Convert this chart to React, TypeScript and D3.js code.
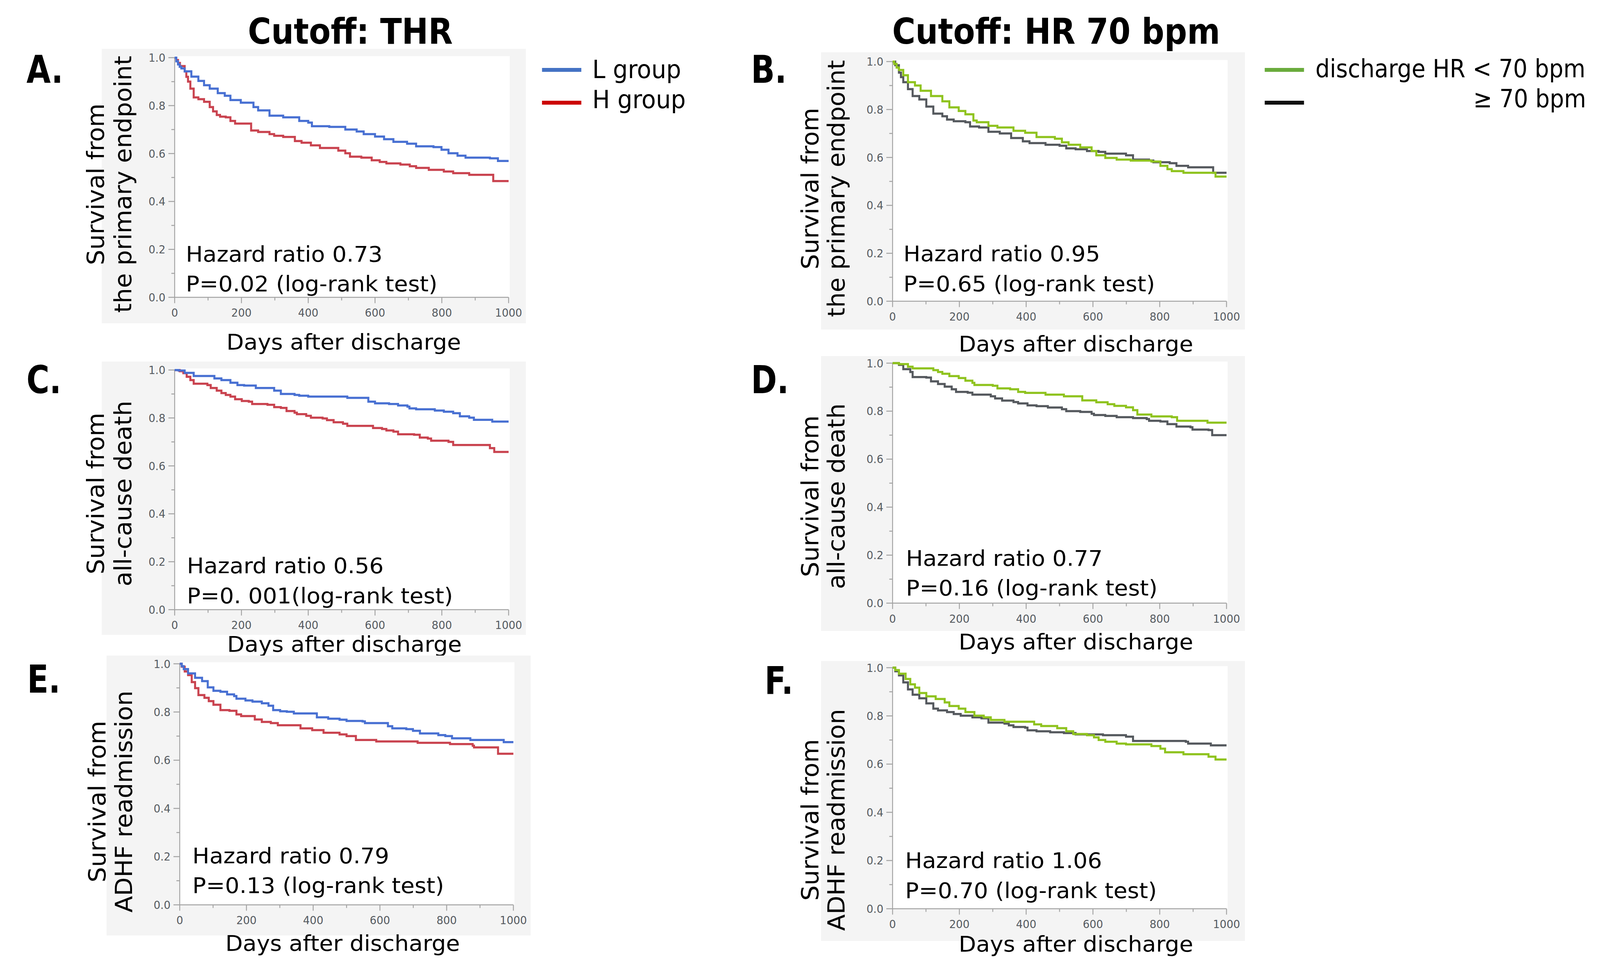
import React from "react";
import * as d3 from "d3";

const W = 4357;
const H = 2510;
type Pt = [number, number];

// ---- Data: Kaplan-Meier curves: [day, survival] ----
const A_L: Pt[] = [[0,1],[5,0.985],[10,0.972],[15,0.962],[20,0.955],[30,0.943],[50,0.921],[71,0.903],[88,0.885],[105,0.871],[129,0.852],[150,0.841],[167,0.823],[198,0.812],[236,0.794],[250,0.78],[284,0.758],[325,0.751],[373,0.736],[400,0.729],[411,0.714],[463,0.711],[511,0.70],[545,0.692],[566,0.681],[600,0.671],[627,0.66],[655,0.649],[696,0.641],[723,0.63],[775,0.627],[799,0.616],[820,0.601],[847,0.591],[871,0.583],[944,0.58],[968,0.569],[1000,0.569]];
const A_H: Pt[] = [[0,1],[5,0.99],[10,0.978],[16,0.965],[30,0.943],[35,0.92],[40,0.9],[47,0.871],[57,0.834],[71,0.827],[88,0.816],[105,0.794],[115,0.776],[126,0.761],[136,0.754],[153,0.751],[167,0.736],[181,0.725],[229,0.696],[250,0.69],[284,0.681],[298,0.674],[325,0.669],[360,0.652],[380,0.645],[408,0.634],[435,0.623],[490,0.612],[511,0.601],[525,0.587],[559,0.583],[590,0.572],[614,0.565],[634,0.559],[676,0.554],[704,0.547],[723,0.54],[761,0.532],[806,0.525],[834,0.518],[882,0.511],[954,0.485],[1000,0.485]];
const B_LT: Pt[] = [[0,1],[5,0.99],[12,0.975],[19,0.965],[32,0.943],[46,0.914],[67,0.9],[84,0.878],[115,0.856],[149,0.834],[170,0.809],[198,0.794],[218,0.78],[242,0.754],[252,0.747],[287,0.732],[314,0.725],[362,0.711],[397,0.703],[431,0.685],[486,0.678],[507,0.663],[527,0.653],[562,0.642],[596,0.627],[610,0.609],[637,0.598],[671,0.591],[713,0.587],[775,0.583],[802,0.565],[823,0.551],[836,0.543],[871,0.536],[967,0.52],[1000,0.52]];
const B_GE: Pt[] = [[0,1],[8,0.985],[19,0.954],[25,0.935],[32,0.914],[46,0.885],[60,0.856],[80,0.842],[101,0.812],[122,0.783],[149,0.772],[163,0.758],[183,0.751],[218,0.747],[232,0.729],[259,0.725],[287,0.707],[321,0.70],[355,0.681],[390,0.667],[410,0.66],[458,0.653],[500,0.649],[520,0.638],[548,0.634],[582,0.627],[617,0.623],[637,0.616],[699,0.609],[720,0.591],[768,0.587],[781,0.58],[830,0.576],[850,0.565],[885,0.559],[960,0.536],[1000,0.536]];
const C_L: Pt[] = [[0,1],[12,0.998],[30,0.988],[57,0.975],[119,0.965],[140,0.958],[167,0.947],[188,0.937],[208,0.935],[243,0.925],[298,0.914],[318,0.9],[359,0.896],[373,0.893],[400,0.889],[517,0.884],[580,0.868],[600,0.861],[642,0.858],[669,0.852],[697,0.847],[703,0.84],[723,0.836],[779,0.831],[806,0.826],[834,0.82],[854,0.807],[882,0.801],[896,0.792],[951,0.785],[1000,0.785]];
const C_H: Pt[] = [[0,1],[15,0.995],[26,0.987],[36,0.972],[47,0.958],[57,0.943],[98,0.937],[108,0.925],[126,0.914],[140,0.904],[153,0.896],[167,0.889],[181,0.878],[201,0.871],[222,0.868],[232,0.858],[278,0.855],[298,0.845],[318,0.842],[335,0.829],[359,0.822],[366,0.816],[394,0.809],[408,0.801],[443,0.798],[456,0.791],[476,0.782],[504,0.776],[517,0.767],[594,0.758],[621,0.754],[634,0.748],[655,0.743],[669,0.732],[717,0.73],[734,0.718],[758,0.714],[768,0.705],[820,0.70],[834,0.687],[944,0.674],[957,0.658],[1000,0.658]];
const D_LT: Pt[] = [[0,1],[19,0.996],[46,0.985],[60,0.978],[122,0.971],[136,0.963],[149,0.956],[170,0.946],[198,0.938],[218,0.927],[239,0.918],[245,0.909],[300,0.906],[314,0.895],[352,0.891],[376,0.88],[397,0.876],[458,0.869],[513,0.862],[568,0.845],[610,0.837],[644,0.829],[664,0.822],[699,0.816],[720,0.804],[733,0.786],[775,0.778],[836,0.775],[852,0.76],[943,0.752],[1000,0.752]];
const D_GE: Pt[] = [[0,1],[19,0.993],[32,0.975],[53,0.963],[60,0.942],[101,0.94],[115,0.924],[136,0.913],[156,0.902],[177,0.891],[190,0.88],[225,0.877],[239,0.869],[294,0.862],[307,0.853],[328,0.844],[362,0.838],[376,0.832],[404,0.824],[431,0.821],[465,0.815],[507,0.808],[520,0.80],[562,0.797],[596,0.789],[603,0.784],[637,0.78],[671,0.775],[720,0.771],[761,0.767],[768,0.76],[802,0.757],[823,0.746],[850,0.736],[892,0.733],[898,0.723],[946,0.721],[957,0.70],[1000,0.70]];
const E_L: Pt[] = [[0,1],[6,0.99],[12,0.978],[25,0.96],[46,0.942],[67,0.928],[84,0.902],[101,0.888],[122,0.884],[142,0.873],[163,0.866],[170,0.855],[197,0.848],[218,0.843],[246,0.836],[266,0.826],[280,0.808],[301,0.803],[321,0.801],[342,0.794],[411,0.778],[445,0.772],[479,0.768],[500,0.763],[548,0.761],[555,0.754],[624,0.741],[637,0.732],[679,0.729],[699,0.722],[720,0.711],[775,0.704],[796,0.70],[816,0.691],[871,0.684],[971,0.675],[1000,0.675]];
const E_H: Pt[] = [[0,1],[6,0.988],[15,0.968],[25,0.953],[36,0.924],[46,0.899],[56,0.87],[74,0.859],[87,0.845],[101,0.83],[122,0.808],[149,0.805],[170,0.79],[184,0.783],[225,0.769],[246,0.759],[273,0.754],[294,0.745],[362,0.732],[397,0.725],[431,0.714],[479,0.707],[500,0.70],[528,0.684],[589,0.678],[713,0.672],[810,0.667],[878,0.66],[882,0.653],[954,0.627],[1000,0.627]];
const F_LT: Pt[] = [[0,1],[8,0.99],[19,0.975],[39,0.953],[53,0.931],[67,0.917],[80,0.895],[101,0.881],[129,0.87],[156,0.856],[170,0.841],[198,0.83],[218,0.816],[245,0.801],[273,0.794],[294,0.783],[335,0.776],[424,0.765],[445,0.758],[493,0.749],[520,0.736],[541,0.725],[582,0.72],[603,0.711],[617,0.70],[637,0.693],[671,0.685],[699,0.682],[775,0.675],[802,0.664],[816,0.649],[871,0.641],[946,0.631],[967,0.619],[1000,0.619]];
const F_GE: Pt[] = [[0,1],[8,0.985],[19,0.968],[32,0.939],[46,0.91],[60,0.888],[80,0.873],[101,0.852],[122,0.83],[136,0.823],[163,0.816],[183,0.808],[204,0.801],[239,0.794],[266,0.79],[287,0.772],[335,0.768],[348,0.761],[362,0.754],[397,0.751],[404,0.74],[431,0.736],[472,0.732],[513,0.729],[548,0.723],[630,0.72],[699,0.714],[720,0.696],[878,0.693],[885,0.685],[953,0.678],[1000,0.678]];

const xTicksMajor = [0, 200, 400, 600, 800, 1000];
const xTicksMinor = [100, 300, 500, 700, 900];
const yTicksMajor = [0, 0.2, 0.4, 0.6, 0.8, 1.0];
const yTicksMinor = [0.1, 0.3, 0.5, 0.7, 0.9];

const colTitles = ["Cutoff: THR", "Cutoff: HR 70 bpm"];
const panelLetters = ["A.", "B.", "C.", "D.", "E.", "F."];
const yTitleTop = ["Survival from", "Survival from", "Survival from", "Survival from", "Survival from", "Survival from"];
const yTitleBottom = ["the primary endpoint", "the primary endpoint", "all-cause death", "all-cause death", "ADHF readmission", "ADHF readmission"];
const hazardText = ["Hazard ratio 0.73", "Hazard ratio 0.95", "Hazard ratio 0.56", "Hazard ratio 0.77", "Hazard ratio 0.79", "Hazard ratio 1.06"];
const pText = ["P=0.02 (log-rank test)", "P=0.65 (log-rank test)", "P=0. 001(log-rank test)", "P=0.16 (log-rank test)", "P=0.13 (log-rank test)", "P=0.70 (log-rank test)"];
const legendLeft = ["L group", "H group"];
const legendRight = ["discharge HR < 70 bpm", "\u2265 70 bpm"];
const xAxisTitle = "Days after discharge";

// ---- Styles ----
const BLUE = "#4870d2";
const RED = "#c9434f";
const GREEN = "#8fc31f";
const GRAY = "#55595e";
const LEG_BLUE = "#4472c4";
const LEG_RED = "#cc0000";
const LEG_GREEN = "#6aab3c";
const LEG_BLACK = "#111111";
const FONT = "'DejaVu Sans', Verdana, sans-serif";
const PANEL_BG = "#f4f4f4";
const AXIS = "#a3a3a3";

type Layout = {
  series: Pt[][];
  colors: string[];
  plot: { x0: number; x1: number; y1: number; y0: number };
  bg: [number, number, number, number];
  letter: [number, number];
  ytitle: [number, number, number];
  hz: [number, number, number];
  xt: [number, number];
};

const layouts: Layout[] = [
  { series: [A_H, A_L], colors: [RED, BLUE], plot: { x0: 475.6, x1: 1385, y1: 147.7, y0: 761.5 }, bg: [277, 125, 1432, 828], letter: [72, 212], ytitle: [283, 357, 472], hz: [506, 670, 746], xt: [936, 895] },
  { series: [B_GE, B_LT], colors: [GRAY, GREEN], plot: { x0: 2430.6, x1: 3340, y1: 157.7, y0: 771.5 }, bg: [2236, 134, 3390, 844], letter: [2045, 212], ytitle: [2228, 2300, 483], hz: [2460, 669, 746], xt: [2930, 900] },
  { series: [C_H, C_L], colors: [RED, BLUE], plot: { x0: 475.6, x1: 1385, y1: 947.7, y0: 1561.5 }, bg: [277, 926, 1432, 1626], letter: [72, 1007], ytitle: [283, 357, 1264], hz: [509, 1468, 1545], xt: [938, 1669] },
  { series: [D_GE, D_LT], colors: [GRAY, GREEN], plot: { x0: 2430.6, x1: 3340, y1: 930.1, y0: 1544.8 }, bg: [2236, 912, 3390, 1616], letter: [2045, 1007], ytitle: [2228, 2300, 1271], hz: [2467, 1449, 1525], xt: [2930, 1663] },
  { series: [E_H, E_L], colors: [RED, BLUE], plot: { x0: 489.4, x1: 1398, y1: 1700.1, y0: 2317.5 }, bg: [290, 1679, 1445, 2396], letter: [74, 1774], ytitle: [287, 360, 2053], hz: [524, 2211, 2287], xt: [933, 2435] },
  { series: [F_GE, F_LT], colors: [GRAY, GREEN], plot: { x0: 2430.6, x1: 3340, y1: 1710.1, y0: 2327.5 }, bg: [2236, 1693, 3390, 2410], letter: [2082, 1777], ytitle: [2228, 2300, 2100], hz: [2465, 2223, 2300], xt: [2930, 2437] },
];

const TEXT_SX = 1.1;

function Panel({ L, i }: { L: Layout; i: number }) {
  const { plot, bg } = L;
  const x = d3.scaleLinear().domain([0, 1000]).range([plot.x0, plot.x1]);
  const y = d3.scaleLinear().domain([0, 1]).range([plot.y0, plot.y1]);
  const line = d3
    .line<Pt>()
    .x((d) => x(d[0]))
    .y((d) => y(d[1]))
    .curve(d3.curveStepAfter);
  return (
    <g>
      <rect x={bg[0]} y={bg[1]} width={bg[2] - bg[0]} height={bg[3] - bg[1]} fill={PANEL_BG} />
      <rect x={plot.x0} y={plot.y1 - 4} width={plot.x1 - plot.x0 + 3} height={plot.y0 - plot.y1 + 4} fill="#ffffff" />
      <line x1={plot.x0} x2={plot.x0} y1={plot.y1} y2={plot.y0} stroke={AXIS} strokeWidth={2.5} />
      <line x1={plot.x0} x2={plot.x1} y1={plot.y0} y2={plot.y0} stroke={AXIS} strokeWidth={2.5} />
      {yTicksMajor.map((t) => (
        <line key={"ym" + t} x1={plot.x0 - 17} x2={plot.x0} y1={y(t)} y2={y(t)} stroke={AXIS} strokeWidth={2.5} />
      ))}
      {yTicksMinor.map((t) => (
        <line key={"yn" + t} x1={plot.x0 - 9} x2={plot.x0} y1={y(t)} y2={y(t)} stroke={AXIS} strokeWidth={2.5} />
      ))}
      {xTicksMajor.map((t) => (
        <line key={"xm" + t} x1={x(t)} x2={x(t)} y1={plot.y0} y2={plot.y0 + 15} stroke={AXIS} strokeWidth={2.5} />
      ))}
      {xTicksMinor.map((t) => (
        <line key={"xn" + t} x1={x(t)} x2={x(t)} y1={plot.y0} y2={plot.y0 + 8} stroke={AXIS} strokeWidth={2.5} />
      ))}
      {yTicksMajor.map((t) => (
        <text key={"yl" + t} x={plot.x0 - 25} y={y(t)} dy="0.36em" textAnchor="end" fontFamily={FONT} fontSize={29} fill="#555a60">
          {t.toFixed(1)}
        </text>
      ))}
      {xTicksMajor.map((t) => (
        <text key={"xl" + t} x={x(t)} y={plot.y0 + 50} textAnchor="middle" fontFamily={FONT} fontSize={29} fill="#555a60">
          {String(t)}
        </text>
      ))}
      {L.series.map((s, k) => (
        <path key={"s" + k} d={line(s) || ""} fill="none" stroke={L.colors[k]} strokeWidth={5.5} strokeLinejoin="miter" />
      ))}
      <text transform={`translate(${L.hz[0]},${L.hz[1]}) scale(${TEXT_SX},1)`} fontFamily={FONT} fontSize={56} fill="#000">
        {hazardText[i]}
      </text>
      <text transform={`translate(${L.hz[0]},${L.hz[2]}) scale(${TEXT_SX},1)`} fontFamily={FONT} fontSize={56} fill="#000">
        {pText[i]}
      </text>
      <text transform={`translate(${L.ytitle[0]},${L.ytitle[2]}) scale(1.05,1) rotate(-90)`} textAnchor="middle" fontFamily={FONT} fontSize={62} fill="#000">
        {yTitleTop[i]}
      </text>
      <text transform={`translate(${L.ytitle[1]},${L.ytitle[2]}) scale(1.05,1) rotate(-90)`} textAnchor="middle" fontFamily={FONT} fontSize={62} fill="#000">
        {yTitleBottom[i]}
      </text>
      <text transform={`translate(${L.xt[0]},${L.xt[1]}) scale(${TEXT_SX},1)`} textAnchor="middle" fontFamily={FONT} fontSize={56} fill="#000">
        {xAxisTitle}
      </text>
      <text transform={`translate(${L.letter[0]},${L.letter[1]}) scale(0.87,1)`} fontFamily={FONT} fontWeight="bold" fontSize={98} fill="#000">
        {panelLetters[i]}
      </text>
    </g>
  );
}

export default function App() {
  return (
    <svg
      viewBox={`0 0 ${W} ${H}`}
      preserveAspectRatio="none"
      style={{ position: "absolute", left: 0, top: 0, width: "100vw", height: "100vh", display: "block", background: "#ffffff" }}
    >
      <rect x={0} y={0} width={W} height={H} fill="#ffffff" />
      <text transform={`translate(954,112) scale(0.96,1)`} textAnchor="middle" fontFamily={FONT} fontWeight="bold" fontSize={90} fill="#000">
        {colTitles[0]}
      </text>
      <text transform={`translate(2876,112) scale(0.96,1)`} textAnchor="middle" fontFamily={FONT} fontWeight="bold" fontSize={90} fill="#000">
        {colTitles[1]}
      </text>
      {layouts.map((L, i) => (
        <Panel key={i} L={L} i={i} />
      ))}
      <line x1={1476} x2={1583} y1={179} y2={179} stroke={LEG_BLUE} strokeWidth={10} />
      <line x1={1476} x2={1583} y1={263} y2={263} stroke={LEG_RED} strokeWidth={10} />
      <text x={1613} y={200} fontFamily={FONT} fontSize={64} fill="#000">{legendLeft[0]}</text>
      <text x={1613} y={277} fontFamily={FONT} fontSize={64} fill="#000">{legendLeft[1]}</text>
      <line x1={3444} x2={3551} y1={179} y2={179} stroke={LEG_GREEN} strokeWidth={10} />
      <line x1={3444} x2={3551} y1={263} y2={263} stroke={LEG_BLACK} strokeWidth={10} />
      <text transform="translate(3582,198) scale(0.962,1)" fontFamily={FONT} fontSize={64} fill="#000">{legendRight[0]}</text>
      <text transform="translate(4319,275) scale(0.962,1)" textAnchor="end" fontFamily={FONT} fontSize={64} fill="#000">{legendRight[1]}</text>
    </svg>
  );
}
